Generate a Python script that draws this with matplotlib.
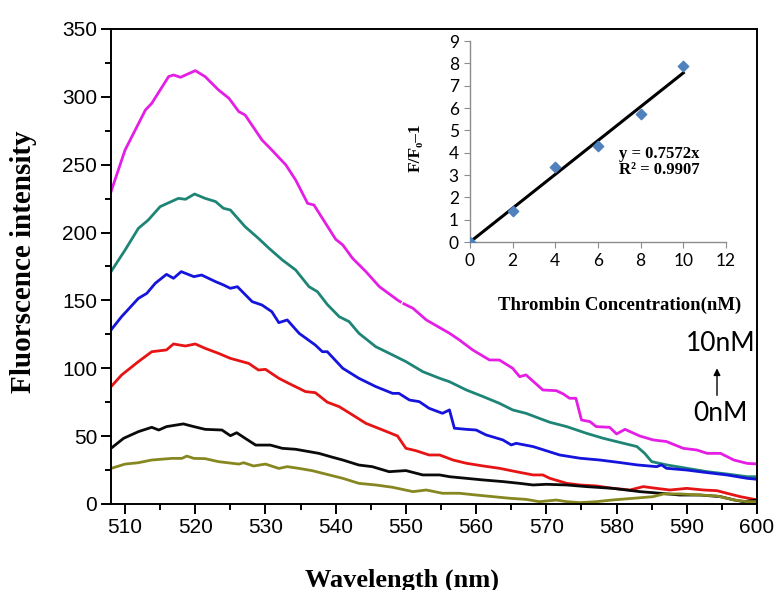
import numpy as np
import matplotlib
matplotlib.use('Agg')
import matplotlib.pyplot as plt
from matplotlib.ticker import MultipleLocator

# emission spectra (wavelength nm, intensity)
wl_10nM = [508.0, 510.0, 512.9, 513.8, 516.2, 516.9, 517.9, 520.0, 521.4, 523.3, 524.8, 526.2,
           527.1, 529.5, 530.9, 532.9, 534.3, 536.0, 536.9, 540.0, 541.0, 542.4, 544.3, 546.2,
           548.8, 549.2, 549.4, 549.7, 551.0, 552.9, 556.2, 557.6, 559.5, 561.9, 563.3, 565.2,
           566.2, 567.1, 569.5, 571.4, 572.4, 573.3, 574.2, 575.0, 576.2, 577.1, 579.0, 580.0,
           581.2, 583.3, 585.2, 587.1, 589.5, 591.4, 592.9, 594.8, 596.7, 598.6, 600.0]
int_10nM = [230.1, 260.8, 290.3, 295.2, 314.9, 316.1, 314.4, 319.3, 314.9, 305.1, 298.9, 289.1,
            286.6, 268.2, 260.8, 249.8, 238.7, 221.5, 220.3, 195.0, 190.9, 181.0, 171.2, 160.2,
            150.3, 149.0, np.nan, 147.5, 144.2, 135.6, 125.8, 120.9, 113.5, 106.1, 106.1, 100.0,
            93.8, 95.1, 84.0, 83.5, 81.1, 77.9, 77.9, 61.9, 60.7, 57.0, 56.5, 51.6,
            55.0, 50.1, 47.2, 46.0, 41.0, 39.8, 37.3, 37.3, 32.4, 29.9, 29.5]

wl_8nM = [508.0, 510.0, 511.9, 513.3, 515.0, 517.6, 518.6, 519.9, 521.4, 522.9, 524.0, 525.0,
          527.1, 529.0, 530.5, 532.4, 534.3, 536.2, 537.4, 538.8, 540.5, 541.9, 543.3, 545.7,
          548.1, 550.0, 552.4, 554.8, 556.2, 558.6, 561.0, 563.3, 565.2, 567.1, 569.0, 570.5,
          572.9, 575.7, 578.1, 581.0, 582.9, 584.0, 585.0, 587.1, 590.0, 592.9, 595.7, 598.6, 600.0]
int_8nM = [171.2, 187.1, 203.1, 209.2, 219.1, 225.2, 224.5, 228.4, 225.2, 222.8, 217.9, 216.6,
           204.3, 195.7, 188.4, 179.8, 172.4, 160.1, 156.4, 147.0, 138.0, 134.4, 125.8, 115.9,
           109.8, 104.9, 97.5, 92.6, 90.1, 84.0, 79.1, 74.2, 69.3, 66.8, 63.1, 60.2,
           57.0, 52.1, 48.4, 44.7, 42.3, 37.3, 31.2, 28.8, 26.3, 23.8, 22.1, 20.1, 20.1]

wl_6nM = [508.0, 509.5, 511.9, 513.1, 514.3, 515.9, 516.9, 518.0, 519.8, 520.9, 522.9, 524.0,
          525.0, 526.0, 528.1, 529.5, 530.9, 531.9, 533.1, 534.8, 537.1, 538.1, 538.8, 541.0,
          543.3, 545.7, 548.1, 549.0, 550.5, 551.9, 553.3, 555.2, 556.2, 556.9, 558.6, 560.0,
          561.4, 563.8, 565.0, 565.7, 568.1, 570.0, 571.9, 574.8, 577.6, 580.5, 582.9, 585.7,
          586.4, 587.1, 590.0, 592.9, 595.7, 598.6, 600.0]
int_6nM = [128.2, 138.0, 151.5, 155.2, 162.6, 169.2, 166.3, 171.2, 167.5, 168.7, 163.8, 161.4,
           158.9, 160.1, 149.1, 146.6, 141.7, 133.6, 135.6, 125.7, 117.1, 112.2, 112.2, 100.0,
           92.6, 86.5, 81.5, 81.5, 76.6, 75.4, 70.5, 66.8, 69.3, 55.8, 55.0, 54.5,
           50.9, 47.2, 43.5, 44.7, 42.3, 39.2, 36.1, 33.7, 32.4, 30.5, 28.8, 27.5,
           28.8, 26.3, 25.0, 23.1, 21.4, 18.9, 18.2]

wl_4nM = [508.0, 509.5, 511.9, 513.8, 515.9, 516.9, 518.6, 520.0, 521.4, 523.3, 525.0, 527.6,
          529.0, 530.0, 531.9, 533.3, 535.7, 537.1, 538.8, 540.5, 542.4, 544.3, 546.7, 548.8,
          550.0, 551.4, 553.3, 554.8, 556.7, 558.6, 561.0, 563.3, 565.7, 568.1, 569.5, 570.5,
          572.9, 574.8, 577.1, 579.5, 581.9, 583.8, 585.7, 587.6, 590.0, 592.4, 594.3, 595.7,
          597.6, 600.0]
int_4nM = [86.4, 95.0, 104.9, 112.2, 113.5, 117.9, 116.4, 117.9, 114.7, 111.0, 107.3, 103.6,
           98.7, 99.2, 92.6, 88.9, 82.8, 82.0, 75.0, 71.7, 65.6, 59.4, 54.5, 50.1,
           41.0, 39.3, 36.1, 36.1, 32.4, 30.0, 28.0, 26.3, 23.8, 21.4, 21.4, 18.9,
           15.2, 14.0, 13.3, 11.5, 10.3, 12.8, 11.5, 10.3, 11.5, 10.3, 9.8, 7.9,
           5.4, 3.0]

wl_2nM = [508.0, 509.8, 511.9, 513.8, 514.8, 515.9, 518.3, 519.8, 521.4, 523.8, 525.0, 525.9,
          527.1, 528.6, 530.7, 532.4, 534.3, 537.6, 539.5, 541.0, 543.3, 545.2, 547.6, 550.0,
          552.4, 554.8, 556.2, 558.6, 561.0, 563.8, 566.2, 568.1, 570.0, 572.9, 575.7, 579.5,
          583.3, 586.2, 589.0, 591.9, 594.8, 596.7, 598.1, 600.0]
int_2nM = [41.0, 48.4, 53.3, 56.5, 54.5, 57.0, 59.0, 57.0, 55.0, 54.5, 50.3, 52.5,
           48.4, 43.4, 43.4, 41.0, 40.3, 37.3, 34.5, 32.4, 28.7, 27.5, 23.8, 24.6,
           21.4, 21.4, 20.1, 18.9, 17.7, 16.5, 15.2, 14.0, 14.5, 14.0, 12.8, 11.5,
           9.1, 7.9, 6.6, 6.6, 5.4, 3.0, 1.7, 3.0]

wl_0nM = [508.0, 510.0, 511.9, 513.8, 516.7, 518.1, 518.8, 519.8, 521.4, 523.3, 526.2, 526.9,
          528.3, 530.0, 531.9, 533.1, 534.8, 536.7, 538.6, 541.0, 543.3, 545.7, 548.1, 551.0,
          552.9, 555.2, 557.6, 560.0, 562.4, 564.8, 567.1, 569.0, 571.4, 572.9, 574.8, 577.1,
          579.5, 582.4, 585.2, 586.7, 589.0, 591.9, 594.3, 596.7, 598.6, 600.0]
int_0nM = [26.2, 29.4, 30.4, 32.4, 33.6, 33.6, 35.3, 33.6, 33.4, 31.2, 29.4, 30.4,
           28.0, 29.4, 26.2, 27.5, 26.2, 24.5, 22.0, 18.9, 15.2, 14.0, 12.3, 9.1,
           10.3, 7.9, 7.9, 6.6, 5.4, 4.2, 3.4, 1.7, 2.9, 1.7, 1.0, 1.7,
           3.0, 4.2, 5.4, 7.4, 7.4, 6.6, 5.9, 3.0, 1.7, 1.7]

# calibration inset
conc = [0, 2, 4, 6, 8, 10]
ratio = [0.0, 1.4, 3.35, 4.3, 5.75, 7.9]
slope = 0.7572

fig = plt.figure(figsize=(7.79, 5.90), dpi=100)
ax = fig.add_axes([0.1425, 0.1458, 0.8293, 0.8051])

spectra = [
    (wl_10nM, int_10nM, '#e41ee4'),
    (wl_8nM, int_8nM, '#1e8576'),
    (wl_6nM, int_6nM, '#1414dc'),
    (wl_4nM, int_4nM, '#e61414'),
    (wl_2nM, int_2nM, '#0a0a0a'),
    (wl_0nM, int_0nM, '#878722'),
]
for x, y, c in spectra:
    ax.plot(x, y, color=c, lw=2.0)

ax.set_xlim(508, 600)
ax.set_ylim(0, 350)
ax.xaxis.set_major_locator(MultipleLocator(10))
ax.xaxis.set_minor_locator(MultipleLocator(5))
ax.yaxis.set_major_locator(MultipleLocator(50))
ax.yaxis.set_minor_locator(MultipleLocator(25))
ax.tick_params(which='both', direction='out', width=1.4, top=False, right=False,
               labelsize=15, pad=3)
ax.tick_params(which='major', length=7)
ax.tick_params(which='minor', length=4)
for lab in ax.get_xticklabels() + ax.get_yticklabels():
    lab.set_fontfamily('Liberation Sans')
for s in ax.spines.values():
    s.set_linewidth(1.4)

ax.set_xlabel('Wavelength (nm)', fontfamily='Liberation Serif', fontweight='bold', fontsize=19)
ax.xaxis.set_label_coords(0.45, -0.135)
ax.set_ylabel('Fluorscence intensity', fontfamily='Liberation Serif', fontweight='bold',
              fontsize=21)
ax.yaxis.set_label_coords(-0.115, 0.51)

ax.text(594.8, 118.5, '10nM', fontfamily='Lato', fontsize=19, ha='center', va='center')
ax.text(594.8, 67, '0nM', fontfamily='Lato', fontsize=19, ha='center', va='center')
ax.annotate('', xy=(594.3, 102), xytext=(594.3, 78),
            arrowprops=dict(arrowstyle='-|>', color='black', lw=1.0, mutation_scale=10))

# inset
axi = fig.add_axes([0.6033, 0.5898, 0.3286, 0.3407])
axi.set_facecolor('none')
fit_x = np.array([0, 10])
axi.plot(fit_x, slope * fit_x, color='black', lw=2.2, zorder=2)
axi.scatter(conc, ratio, marker='D', s=28, color='#4f81bd', zorder=3)
axi.set_xlim(0, 12)
axi.set_ylim(0, 9)
axi.set_xticks(range(0, 13, 2))
axi.set_yticks(range(0, 10))
for side in ['top', 'right']:
    axi.spines[side].set_visible(False)
for side in ['left', 'bottom']:
    axi.spines[side].set_color('#8c8c8c')
    axi.spines[side].set_linewidth(1.0)
axi.tick_params(direction='out', length=4, color='#8c8c8c', labelsize=12.5, pad=4)
for lab in axi.get_xticklabels() + axi.get_yticklabels():
    lab.set_fontfamily('Lato')
axi.set_xlabel('Thrombin Concentration(nM)', fontfamily='Liberation Serif',
               fontweight='bold', fontsize=13.5)
axi.xaxis.set_label_coords(0.586, -0.27)
axi.set_ylabel('F/F\u2080\u20131', family=['Liberation Serif', 'DejaVu Serif'],
               fontweight='bold', fontsize=12.5)
axi.yaxis.set_label_coords(-0.18, 0.47)
axi.text(7.0, 3.95, 'y = 0.7572x', fontfamily='Liberation Serif', fontweight='bold',
         fontsize=12, ha='left', va='center')
axi.text(7.0, 3.22, 'R\u00b2 = 0.9907', fontfamily='Liberation Serif', fontweight='bold',
         fontsize=12, ha='left', va='center')

fig.savefig('out.png', dpi=100)
